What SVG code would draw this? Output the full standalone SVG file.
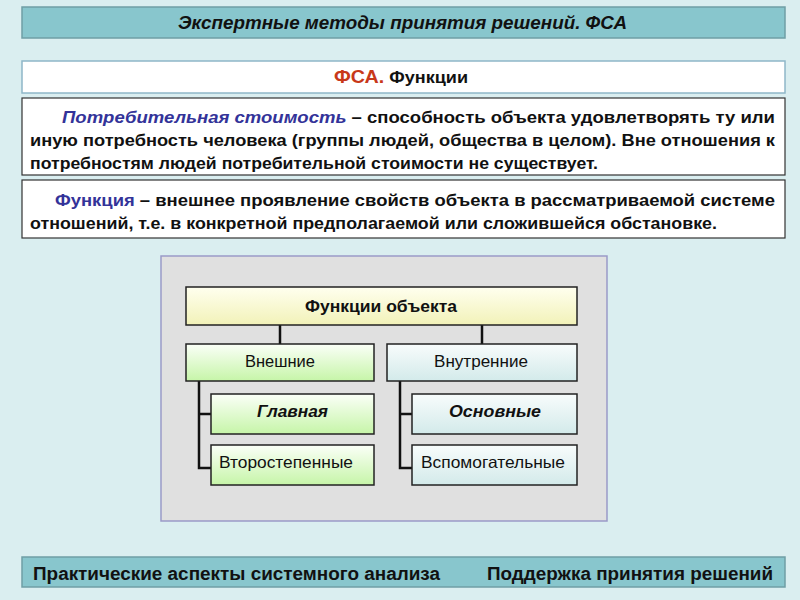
<svg xmlns="http://www.w3.org/2000/svg" width="800" height="600" viewBox="0 0 800 600">
<defs>
<linearGradient id="gY" x1="0" y1="0" x2="0" y2="1"><stop offset="0" stop-color="#ffffef"/><stop offset="1" stop-color="#f2f2b8"/></linearGradient>
<linearGradient id="gG" x1="0" y1="0" x2="0" y2="1"><stop offset="0" stop-color="#fbfff8"/><stop offset="1" stop-color="#c6f5a8"/></linearGradient>
<linearGradient id="gB" x1="0" y1="0" x2="0" y2="1"><stop offset="0" stop-color="#f8fcfc"/><stop offset="1" stop-color="#d3eaea"/></linearGradient>
<style>
.bar{fill:#88c6cd;stroke:#6f9ea5;stroke-width:1.5}
.wb{fill:#fff;stroke:#8fb7c8;stroke-width:1.5}
.db{fill:#fff;stroke:#333;stroke-width:1.2}
.nb{stroke:#222;stroke-width:1.5}
.t{font-family:"Liberation Sans",Arial,sans-serif;font-weight:bold;fill:#111}
.p{font-size:16.5px}
.em{fill:#333399;font-style:italic}
.n{font-family:"Liberation Sans",Arial,sans-serif;font-size:16.5px;fill:#111}
.m{text-anchor:middle}
.c{stroke:#111;stroke-width:2.5;fill:none}
</style>
</defs>
<rect width="800" height="600" fill="#daeef0"/>
<rect class="bar" x="22" y="7" width="763" height="31"/>
<text class="t" x="178" y="28.5" font-size="18.5" font-style="italic" textLength="449" lengthAdjust="spacingAndGlyphs">Экспертные методы принятия решений. ФСА</text>

<rect class="wb" x="22" y="61" width="763" height="32"/>
<text class="t" x="334" y="83" font-size="16.5" textLength="134" lengthAdjust="spacingAndGlyphs"><tspan fill="#c8381a" font-size="18">ФСА.</tspan> Функции</text>

<rect class="db" x="22" y="98" width="763" height="77"/>
<text class="t p" x="62" y="123" textLength="713" lengthAdjust="spacingAndGlyphs"><tspan class="em">Потребительная стоимость</tspan> – способность объекта удовлетворять ту или</text>
<text class="t p" x="30" y="146" textLength="745" lengthAdjust="spacingAndGlyphs">иную потребность человека (группы людей, общества в целом). Вне отношения к</text>
<text class="t p" x="30" y="169" textLength="568" lengthAdjust="spacingAndGlyphs">потребностям людей потребительной стоимости не существует.</text>

<rect class="db" x="22" y="180" width="763" height="58"/>
<text class="t p" x="55" y="206" textLength="720" lengthAdjust="spacingAndGlyphs"><tspan fill="#333399">Функция</tspan> – внешнее проявление свойств объекта в рассматриваемой системе</text>
<text class="t p" x="30" y="229" textLength="687" lengthAdjust="spacingAndGlyphs">отношений, т.е. в  конкретной предполагаемой или сложившейся обстановке.</text>

<rect x="161" y="256" width="446" height="265" fill="#e0e0e0" stroke="#9a9ac8" stroke-width="1.5"/>

<g id="connectors">
<path class="c" d="M280 325V344M482 325V344"/>
<path class="c" d="M199 381V468H211M199 414H211"/>
<path class="c" d="M400 381V468H412M400 414H412"/>
</g>
<g id="n-root"><rect class="nb" x="186" y="287" width="391" height="38" fill="url(#gY)"/><text class="n" x="305" y="312" font-weight="bold" textLength="152" lengthAdjust="spacingAndGlyphs">Функции объекта</text></g>
<g id="n-ext"><rect class="nb" x="186" y="344" width="188" height="37" fill="url(#gG)"/><text class="n" x="245" y="367" textLength="70" lengthAdjust="spacingAndGlyphs">Внешние</text></g>
<g id="n-int"><rect class="nb" x="387" y="344" width="190" height="37" fill="url(#gB)"/><text class="n" x="434" y="367" textLength="94" lengthAdjust="spacingAndGlyphs">Внутренние</text></g>
<g id="n-main"><rect class="nb" x="211" y="394" width="163" height="40" fill="url(#gG)"/><text class="n" x="257" y="417" font-weight="bold" font-style="italic" textLength="71" lengthAdjust="spacingAndGlyphs">Главная</text></g>
<g id="n-sec"><rect class="nb" x="211" y="445" width="163" height="40" fill="url(#gG)"/><text class="n" x="219" y="468" textLength="134" lengthAdjust="spacingAndGlyphs">Второстепенные</text></g>
<g id="n-basic"><rect class="nb" x="412" y="394" width="165" height="40" fill="url(#gB)"/><text class="n" x="449" y="417" font-weight="bold" font-style="italic" textLength="92" lengthAdjust="spacingAndGlyphs">Основные</text></g>
<g id="n-aux"><rect class="nb" x="412" y="445" width="165" height="40" fill="url(#gB)"/><text class="n" x="421" y="468" textLength="144" lengthAdjust="spacingAndGlyphs">Вспомогательные</text></g>

<rect class="bar" x="22" y="557" width="763" height="30"/>
<text class="t" x="33" y="580" font-size="18" textLength="407" lengthAdjust="spacingAndGlyphs">Практические аспекты системного анализа</text>
<text class="t" x="487" y="580" font-size="18" textLength="286" lengthAdjust="spacingAndGlyphs">Поддержка принятия решений</text>
</svg>
